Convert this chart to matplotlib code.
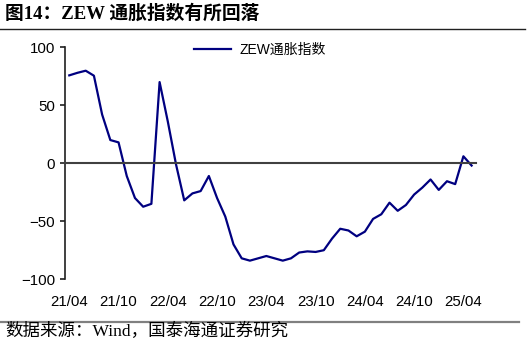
import matplotlib
matplotlib.use("Agg")
import matplotlib.pyplot as plt
from matplotlib.lines import Line2D

# 月度数据 21/04 - 25/05
months = list(range(50))
zew_infl = [75.8, 78, 79.8, 75.5, 42, 20, 18, -11, -30, -37.5,
            -35, 70, 36, -1, -32, -26, -24, -11, -30, -46,
            -70, -82, -84, -82, -80, -82, -84, -82, -77, -76,
            -76.5, -75, -65, -56.5, -58, -63, -59, -48, -44, -34,
            -41, -36, -27, -21, -14, -23, -15.5, -18, 6, -2]
tick_pos = [0, 6, 12, 18, 24, 30, 36, 42, 48]
tick_labels = ["21/04", "21/10", "22/04", "22/10", "23/04",
               "23/10", "24/04", "24/10", "25/04"]

sans = ["Liberation Sans", "Noto Sans CJK SC"]
serif = ["Liberation Serif", "Noto Sans CJK SC"]

fig = plt.figure(figsize=(5.32, 3.49), dpi=100)
ax = fig.add_axes([0.1222, 0.2, 0.772, 0.6645])

ax.plot(months, zew_infl, color="#000080", lw=1.6, label="ZEW通胀指数")

ax.set_xlim(-0.52, 49.5)
ax.set_ylim(-100, 100)
ax.set_yticks([-100, -50, 0, 50, 100])

# x轴放在0处, 标签在底部
ax.spines["bottom"].set_position(("data", 0))
ax.spines["bottom"].set_color("#404040")
ax.spines["bottom"].set_linewidth(1.5)
ax.spines["left"].set_color("#202020")
ax.spines["left"].set_linewidth(1.2)
ax.spines["top"].set_visible(False)
ax.spines["right"].set_visible(False)

ax.set_xticks(tick_pos)
ax.set_xticklabels(tick_labels, family=sans, fontsize=10.8)
ax.set_xticks(tick_pos[1:], minor=True)
ax.tick_params(axis="x", which="major", length=0, pad=95)
ax.tick_params(axis="x", which="minor", direction="out", length=3.5,
               width=1.2, color="#303030")
ax.tick_params(axis="y", direction="out", length=3.6, width=1.2,
               color="#202020", pad=3.6)
for lbl in ax.get_yticklabels():
    lbl.set_family(sans)
    lbl.set_fontsize(10.8)

ax.legend(loc="center left", bbox_to_anchor=(0.314, 0.988), frameon=False,
          borderpad=0, borderaxespad=0, handlelength=2.7, handletextpad=0.6,
          prop={"family": sans, "size": 10})

# 标题和来源
fig.text(0.0094, 0.96, "图14：ZEW 通胀指数有所回落", family=serif,
         fontweight="bold", fontsize=13.5, va="center", ha="left")
fig.add_artist(Line2D([0, 0.987], [0.916, 0.916], color="#202020", lw=1.0,
                      transform=fig.transFigure))
fig.add_artist(Line2D([0, 0.976], [0.0765, 0.0765], color="#808080", lw=1.6,
                      transform=fig.transFigure))
fig.text(0.0094, 0.05, "数据来源：Wind，国泰海通证券研究", family=serif,
         fontsize=12.6, va="center", ha="left")

fig.savefig("out.png", dpi=100)
